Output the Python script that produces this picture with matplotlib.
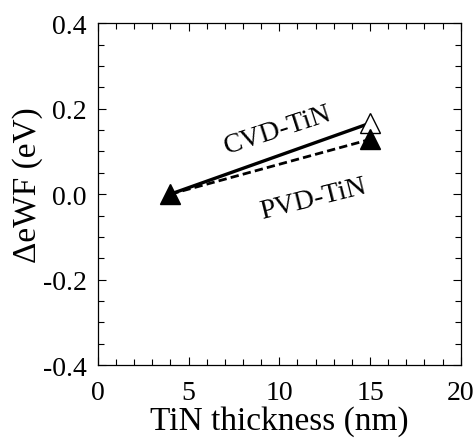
import matplotlib
matplotlib.use("Agg")
import matplotlib.pyplot as plt
from matplotlib.ticker import MultipleLocator

thickness = [4, 15]
cvd = [0.0, 0.166]
pvd = [0.0, 0.128]

plt.rcParams['font.family'] = ['Liberation Serif', 'DejaVu Serif']

fig = plt.figure(figsize=(4.77, 4.39), dpi=100)
ax = fig.add_axes([0.205, 0.166, 0.761, 0.779])

ax.plot(thickness, cvd, '-', color='black', lw=2.4)
ax.plot(thickness, pvd, '--', color='black', lw=2.0, dashes=(3, 1.5))
ax.plot(thickness[0], cvd[0], marker='^', ms=14, color='black', mec='black')
ax.plot(thickness[1], cvd[1], marker='^', ms=14, mfc='white', mec='black', mew=1.0)
ax.plot(thickness[1], pvd[1], marker='^', ms=14, color='black', mec='black')

ax.set_xlim(0, 20)
ax.set_ylim(-0.4, 0.4)
ax.xaxis.set_major_locator(MultipleLocator(5))
ax.xaxis.set_minor_locator(MultipleLocator(1))
ax.yaxis.set_major_locator(MultipleLocator(0.2))
ax.yaxis.set_minor_locator(MultipleLocator(0.05))
ax.tick_params(which='both', direction='in', top=True, right=True, width=0.8)
ax.tick_params(which='major', length=6, labelsize=20)
ax.tick_params(which='minor', length=4)
ax.tick_params(axis='x', which='major', pad=11)
ax.tick_params(axis='y', which='major', pad=8)
ax.yaxis.set_major_formatter(plt.FuncFormatter(lambda v, p: f"{v:.1f}".replace('-0.0', '0.0')))
for s in ax.spines.values():
    s.set_linewidth(0.9)

ax.set_xlabel('TiN thickness (nm)', fontsize=24, labelpad=0)
ax.set_ylabel('ΔeWF (eV)', fontsize=24)
ax.yaxis.set_label_coords(-0.15, 0.53)

ax.text(9.9, 0.152, 'CVD-TiN', fontsize=20, rotation=18, ha='center', va='center')
ax.text(11.9, -0.01, 'PVD-TiN', fontsize=20, rotation=14, ha='center', va='center')

fig.savefig('out.png', dpi=100)
